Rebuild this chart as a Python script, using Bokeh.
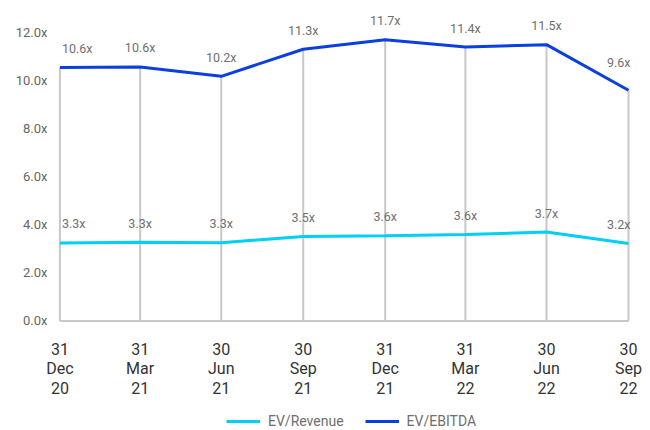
import pandas as pd
from bokeh.plotting import figure
from bokeh.models import ColumnDataSource, Range1d, Legend, LegendItem
from bokeh.core.properties import value
from bokeh.embed import file_html
from bokeh.resources import INLINE

dates = ["2020-12-31", "2021-03-31", "2021-06-30", "2021-09-30",
         "2021-12-31", "2022-03-31", "2022-06-30", "2022-09-30"]
tick_labels = ["31\nDec\n20", "31\nMar\n21", "30\nJun\n21", "30\nSep\n21",
               "31\nDec\n21", "31\nMar\n22", "30\nJun\n22", "30\nSep\n22"]
ev_revenue = [3.26, 3.29, 3.27, 3.53, 3.56, 3.61, 3.71, 3.23]
ev_ebitda = [10.57, 10.59, 10.20, 11.33, 11.72, 11.42, 11.52, 9.62]
y_ticks = [0, 2, 4, 6, 8, 10, 12]

FONT = "Roboto"
BLUE = "#0A3FE0"
CYAN = "#00D0F5"
GRID = "#C8C8C8"

dt = pd.to_datetime(dates)
days = [int((d - dt[0]).days) for d in dt]
n = len(days)

p = figure(frame_width=650, frame_height=430, output_backend="svg", toolbar_location=None,
           x_range=Range1d(days[0] - 66.7, days[-1] + 24.7), y_range=Range1d(-4.558, 13.36),
           min_border_left=0, min_border_right=0, min_border_top=0, min_border_bottom=0)
p.outline_line_color = None
p.xgrid.visible = False
p.ygrid.visible = False
p.background_fill_color = "white"
p.xaxis.visible = False
p.yaxis.visible = False

# drop lines and baseline
p.segment(x0=days, y0=[0] * n, x1=days, y1=ev_ebitda, line_color=GRID, line_width=2)
p.segment(x0=[days[0]], y0=[0], x1=[days[-1]], y1=[0], line_color=GRID, line_width=2)

r_rev = p.line(days, ev_revenue, line_color=CYAN, line_width=3)
r_ebit = p.line(days, ev_ebitda, line_color=BLUE, line_width=3)

aligns = ["left"] + ["center"] * (n - 2) + ["right"]
xoffs = [2] + [0] * (n - 2) + [2]

def fmt(v):
    return f"{v:.1f}x"

src_rev = ColumnDataSource(dict(x=days, y=ev_revenue, t=[fmt(v) for v in ev_revenue],
                                a=aligns, xo=xoffs, yo=[-19] * n))
src_ebit = ColumnDataSource(dict(x=days, y=ev_ebitda, t=[fmt(v) for v in ev_ebitda],
                                 a=aligns, xo=xoffs, yo=[-19] * (n - 1) + [-28]))
for s in (src_rev, src_ebit):
    p.text(x="x", y="y", text="t", source=s, text_align="a", x_offset="xo", y_offset="yo",
           text_baseline="middle", text_font=value(FONT), text_font_size="12.5px",
           text_color="#707070")

# value-axis labels
p.text(x=[days[0]] * len(y_ticks), y=y_ticks, text=[f"{t:.1f}x" for t in y_ticks],
       x_offset=-12.5, y_offset=-0.5, text_align="right", text_baseline="middle",
       text_font=value(FONT), text_font_size="13px", text_color="#666666")

# date labels under the baseline, three rows
rows = [lab.split("\n") for lab in tick_labels]
for i, off in enumerate([27.5, 47, 66.5]):
    p.text(x=days, y=[0] * n, text=[r[i] for r in rows], y_offset=off,
           text_align="center", text_baseline="middle", text_font=value(FONT),
           text_font_size="16px", text_color="#333333")

legend = Legend(items=[LegendItem(label="EV/Revenue", renderers=[r_rev]),
                       LegendItem(label="EV/EBITDA", renderers=[r_ebit])],
                orientation="horizontal", location=(226, 1),
                glyph_width=34, glyph_height=14, label_standoff=8, spacing=21,
                padding=2, margin=0, border_line_color=None, background_fill_alpha=0,
                label_text_font=FONT, label_text_font_size="14px",
                label_text_color="#6E6E6E", label_height=14)
p.add_layout(legend, "center")

open("out.html", "w").write(file_html(p, INLINE))
